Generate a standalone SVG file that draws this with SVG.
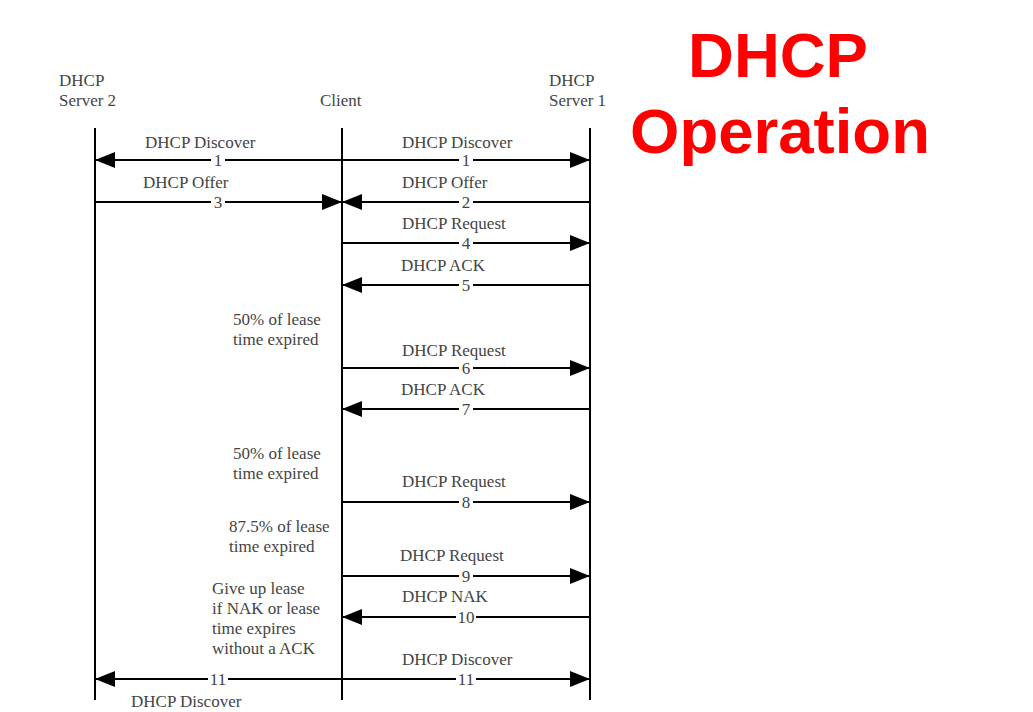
<svg xmlns="http://www.w3.org/2000/svg" width="1033" height="712" viewBox="0 0 1033 712">
  <style>
    .life { stroke: #000; stroke-width: 2; fill: none; }
    .msg { stroke: #000; stroke-width: 2; fill: none; }
    .t { font-family: "Liberation Serif", "Times New Roman", serif; font-size: 17px; fill: #444; }
    .n { font-family: "Liberation Serif", "Times New Roman", serif; font-size: 17px; fill: #444; text-anchor: middle; }
    .nb { fill: #fff; }
    .title { font-family: "Liberation Sans", Arial, sans-serif; font-weight: bold; font-size: 63.5px; fill: #f00; text-anchor: middle; }
  </style>
  <defs>
    <marker id="arr" viewBox="0 0 20 16" refX="20" refY="8" markerWidth="20" markerHeight="16" markerUnits="userSpaceOnUse" orient="auto">
      <path d="M0,0 L20,8 L0,16 Z" fill="#000"/>
    </marker>
  </defs>
  <rect width="1033" height="712" fill="#fff"/>

  <!-- title -->
  <g id="title">
    <text class="title" x="778" y="77">DHCP</text>
    <text class="title" x="780" y="153">Operation</text>
  </g>

  <!-- participants with lifelines -->
  <g id="server2">
    <text class="t" x="59" y="86">DHCP</text>
    <text class="t" x="59" y="106">Server 2</text>
    <line class="life" x1="95" y1="128" x2="95" y2="700"/>
  </g>
  <g id="client">
    <text class="t" x="320" y="106">Client</text>
    <line class="life" x1="342" y1="128" x2="342" y2="700"/>
  </g>
  <g id="server1">
    <text class="t" x="549" y="86">DHCP</text>
    <text class="t" x="549" y="106">Server 1</text>
    <line class="life" x1="590" y1="128" x2="590" y2="700"/>
  </g>

  <!-- side notes on the client timeline -->
  <g id="notes">
    <text class="t" x="233" y="325">50% of lease</text>
    <text class="t" x="233" y="345">time expired</text>
    <text class="t" x="233" y="459">50% of lease</text>
    <text class="t" x="233" y="479">time expired</text>
    <text class="t" x="229" y="532">87.5% of lease</text>
    <text class="t" x="229" y="552">time expired</text>
    <text class="t" x="212" y="594">Give up lease</text>
    <text class="t" x="212" y="614">if NAK or lease</text>
    <text class="t" x="212" y="634">time expires</text>
    <text class="t" x="212" y="654">without a ACK</text>
  </g>

  <!-- messages -->
  <g id="connectors">
    <!-- 1: discover, client to both servers -->
    <line class="msg" x1="342" y1="160" x2="95" y2="160" marker-end="url(#arr)"/>
    <line class="msg" x1="342" y1="160" x2="590" y2="160" marker-end="url(#arr)"/>
    <text class="t" x="145" y="148">DHCP Discover</text>
    <text class="t" x="402" y="148">DHCP Discover</text>
    <rect class="nb" x="211" y="153" width="14" height="14"/>
    <text class="n" x="218" y="166">1</text>
    <rect class="nb" x="459" y="153" width="14" height="14"/>
    <text class="n" x="466" y="166">1</text>

    <!-- 3 / 2: offers -->
    <line class="msg" x1="95" y1="202" x2="342" y2="202" marker-end="url(#arr)"/>
    <line class="msg" x1="590" y1="202" x2="342" y2="202" marker-end="url(#arr)"/>
    <text class="t" x="143" y="188">DHCP Offer</text>
    <text class="t" x="402" y="188">DHCP Offer</text>
    <rect class="nb" x="211" y="195" width="14" height="14"/>
    <text class="n" x="218" y="208">3</text>
    <rect class="nb" x="459" y="195" width="14" height="14"/>
    <text class="n" x="466" y="208">2</text>

    <!-- 4: request -->
    <line class="msg" x1="342" y1="243" x2="590" y2="243" marker-end="url(#arr)"/>
    <text class="t" x="402" y="229">DHCP Request</text>
    <rect class="nb" x="459" y="236" width="14" height="14"/>
    <text class="n" x="466" y="249">4</text>

    <!-- 5: ack -->
    <line class="msg" x1="590" y1="285" x2="342" y2="285" marker-end="url(#arr)"/>
    <text class="t" x="401" y="271">DHCP ACK</text>
    <rect class="nb" x="459" y="278" width="14" height="14"/>
    <text class="n" x="466" y="291">5</text>

    <!-- 6: renewal request -->
    <line class="msg" x1="342" y1="368" x2="590" y2="368" marker-end="url(#arr)"/>
    <text class="t" x="402" y="356">DHCP Request</text>
    <rect class="nb" x="459" y="361" width="14" height="14"/>
    <text class="n" x="466" y="374">6</text>

    <!-- 7: ack -->
    <line class="msg" x1="590" y1="409" x2="342" y2="409" marker-end="url(#arr)"/>
    <text class="t" x="401" y="395">DHCP ACK</text>
    <rect class="nb" x="459" y="402" width="14" height="14"/>
    <text class="n" x="466" y="415">7</text>

    <!-- 8: request -->
    <line class="msg" x1="342" y1="502" x2="590" y2="502" marker-end="url(#arr)"/>
    <text class="t" x="402" y="487">DHCP Request</text>
    <rect class="nb" x="459" y="495" width="14" height="14"/>
    <text class="n" x="466" y="508">8</text>

    <!-- 9: request -->
    <line class="msg" x1="342" y1="576" x2="590" y2="576" marker-end="url(#arr)"/>
    <text class="t" x="400" y="561">DHCP Request</text>
    <rect class="nb" x="459" y="569" width="14" height="14"/>
    <text class="n" x="466" y="582">9</text>

    <!-- 10: nak -->
    <line class="msg" x1="590" y1="617" x2="342" y2="617" marker-end="url(#arr)"/>
    <text class="t" x="402" y="602">DHCP NAK</text>
    <rect class="nb" x="456" y="610" width="20" height="14"/>
    <text class="n" x="466" y="623">10</text>

    <!-- 11: discover again to both servers -->
    <line class="msg" x1="342" y1="679" x2="95" y2="679" marker-end="url(#arr)"/>
    <line class="msg" x1="342" y1="679" x2="590" y2="679" marker-end="url(#arr)"/>
    <text class="t" x="402" y="665">DHCP Discover</text>
    <text class="t" x="131" y="707">DHCP Discover</text>
    <rect class="nb" x="208" y="672" width="20" height="14"/>
    <text class="n" x="218" y="685">11</text>
    <rect class="nb" x="456" y="672" width="20" height="14"/>
    <text class="n" x="466" y="685">11</text>
  </g>
</svg>
